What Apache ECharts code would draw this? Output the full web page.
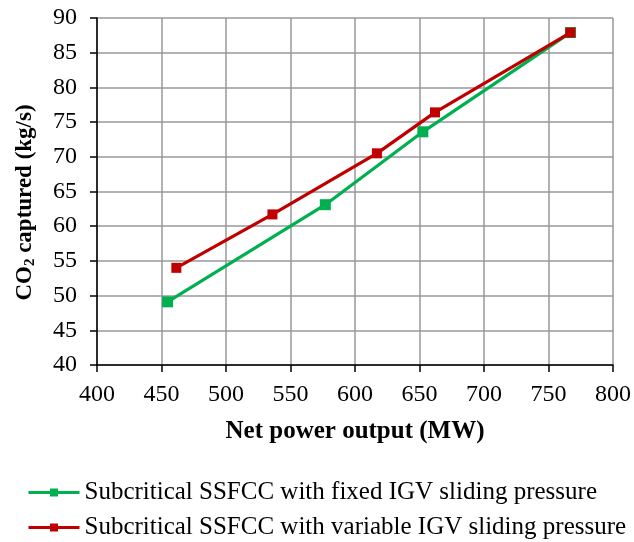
<!DOCTYPE html>
<html>
<head>
<meta charset="utf-8">
<script src="https://cdn.jsdelivr.net/npm/echarts@6/dist/echarts.min.js"></script>
<style>html,body{margin:0;padding:0;background:#fff;}#c{width:634px;height:542px;}</style>
</head>
<body>
<div id="c"></div>
<script>
const seriesNames = ['Subcritical SSFCC with fixed IGV sliding pressure', 'Subcritical SSFCC with variable IGV sliding pressure'];
const fixedX = [454.7, 577, 652.6, 767];
const fixedY = [49.1, 63.1, 73.6, 87.9];
const variableX = [461.5, 536, 617, 662, 767];
const variableY = [54.0, 61.7, 70.5, 76.4, 87.9];
const xTicks = [400, 450, 500, 550, 600, 650, 700, 750, 800];
const yTicks = [40, 45, 50, 55, 60, 65, 70, 75, 80, 85, 90];

const font = '"Liberation Serif", "Times New Roman", serif';
const chart = echarts.init(document.getElementById('c'), null, {renderer: 'canvas'});
const zip = (xs, ys) => xs.map((x, i) => [x, ys[i]]);
const legendBase = {
  orient: 'vertical', left: 27, itemWidth: 51, itemHeight: 10, padding: 0, itemGap: 5,
  lineStyle: {width: 3},
  textStyle: {fontFamily: font, fontSize: 25, color: '#000'}
};
chart.setOption({
  animation: false,
  textStyle: {fontFamily: font},
  grid: {left: 97, right: 21, top: 18, bottom: 177, containLabel: false},
  xAxis: {
    type: 'value', min: xTicks[0], max: xTicks[xTicks.length - 1], interval: 50,
    name: 'Net power output (MW)', nameLocation: 'middle', nameGap: 54,
    nameTextStyle: {fontFamily: font, fontWeight: 'bold', fontSize: 25, color: '#000'},
    axisLine: {show: true, lineStyle: {color: '#000', width: 1.5}},
    axisTick: {show: true, inside: false, length: 7, lineStyle: {color: '#000', width: 1.5}},
    axisLabel: {fontFamily: font, fontSize: 24, color: '#000', margin: 18},
    splitLine: {show: true, lineStyle: {color: '#999999', width: 1.5}}
  },
  yAxis: {
    type: 'value', min: yTicks[0], max: yTicks[yTicks.length - 1], interval: 5,
    name: '{b|CO}{s|2}{b| captured (kg/s)}', nameLocation: 'middle', nameGap: 59, nameRotate: 90,
    nameTextStyle: {
      padding: [0, 22, 0, 0],
      rich: {
        b: {fontFamily: font, fontWeight: 'bold', fontSize: 23, color: '#000'},
        s: {fontFamily: font, fontWeight: 'bold', fontSize: 15, color: '#000', verticalAlign: 'bottom', padding: [11, 0, 0, 0]}
      }
    },
    axisLine: {show: true, lineStyle: {color: '#000', width: 1.5}},
    axisTick: {show: true, inside: false, length: 7, lineStyle: {color: '#000', width: 1.5}},
    axisLabel: {fontFamily: font, fontSize: 24, color: '#000', margin: 20},
    splitLine: {show: true, lineStyle: {color: '#999999', width: 1.5}}
  },
  legend: [
    Object.assign({}, legendBase, {top: 480, data: [seriesNames[0]]}),
    Object.assign({}, legendBase, {top: 515, data: [seriesNames[1]]})
  ],
  series: [
    {
      name: seriesNames[0], type: 'line', data: zip(fixedX, fixedY),
      symbol: 'rect', symbolSize: 11, color: '#00B050',
      lineStyle: {width: 3.2, color: '#00B050'}, itemStyle: {color: '#00B050'}, z: 2
    },
    {
      name: seriesNames[1], type: 'line', data: zip(variableX, variableY),
      symbol: 'rect', symbolSize: 10, color: '#C00000',
      lineStyle: {width: 3.2, color: '#C00000'}, itemStyle: {color: '#C00000'}, z: 3
    }
  ]
});
</script>
</body>
</html>
